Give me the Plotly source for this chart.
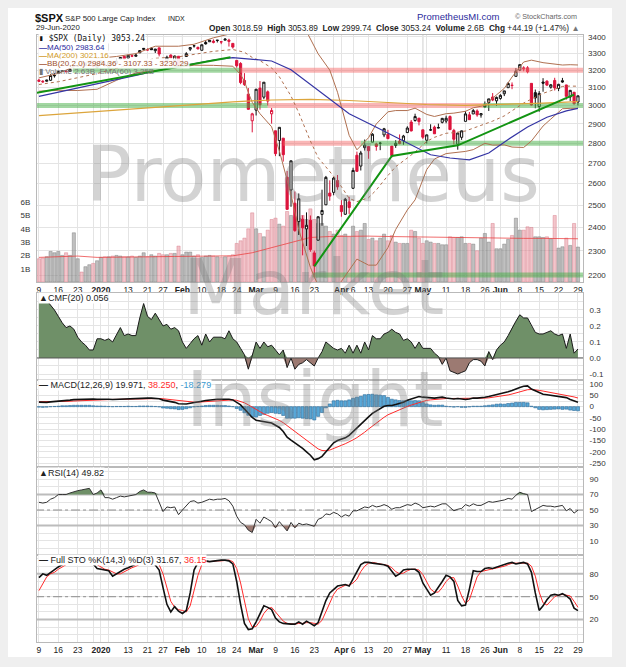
import math
import pandas as pd
import plotly.graph_objects as go

W, H = 626, 667

holidays = ["2019-12-25", "2020-01-01", "2020-01-20", "2020-02-17", "2020-04-10", "2020-05-25"]
dates = [d for d in pd.bdate_range("2019-12-09", "2020-06-29") if d.strftime("%Y-%m-%d") not in holidays]

tick_idx = [0, 5, 10, 16, 23, 28, 32, 37, 42, 47, 51, 56, 61, 66, 71, 78, 81, 85, 90, 95,
            99, 105, 110, 115, 119, 124, 129, 134, 139]
tick_text = ["9", "16", "23", "<b>2020</b>", "13", "21", "27", "<b>Feb</b>", "10", "18", "24",
             "<b>Mar</b>", "9", "16", "23", "<b>Apr</b>", "6", "13", "20", "27", "<b>May</b>",
             "11", "18", "26", "<b>Jun</b>", "8", "15", "22", "29"]
week_idx = [0, 5, 10, 14, 16, 18, 23, 28, 32, 37, 42, 47, 51, 56, 61, 66, 71, 76, 78, 81, 85,
            90, 95, 99, 100, 105, 110, 115, 119, 124, 129, 134, 139]
month_line_idx = [37, 99]

# daily OHLC of $SPX
prev_close0 = 3145.91
open_ = [
    3141.86, 3135.36, 3135.75, 3141.23, 3166.65, 3183.63, 3195.40, 3195.21, 3192.32, 3223.33,
    3226.05, 3225.45, 3227.20, 3247.23, 3240.09, 3215.18,
    3244.67, 3226.36, 3217.55, 3241.86, 3238.59, 3266.03, 3281.81, 3271.13, 3285.35, 3282.27,
    3302.97, 3323.66, 3321.03, 3330.02, 3315.77, 3333.10, 3247.16, 3255.35, 3289.46, 3256.45, 3282.33,
    3235.66, 3280.61, 3324.91, 3344.92, 3335.54, 3318.28, 3365.87, 3370.50, 3365.90, 3378.08,
    3369.04, 3380.39, 3380.45, 3360.50, 3257.61, 3238.94, 3139.90, 3062.54, 2916.90,
    2974.28, 3096.46, 3045.75, 3075.70, 2954.20, 2863.89, 2813.48, 2825.60, 2630.86, 2569.99,
    2508.59, 2425.66, 2436.50, 2393.48, 2431.94, 2290.71, 2344.44, 2457.77, 2501.29, 2555.87, 2558.98, 2614.69,
    2498.08, 2458.54, 2514.92, 2578.28, 2738.65, 2685.00, 2776.99, 2782.46, 2805.10, 2795.64,
    2799.34, 2842.43, 2845.62, 2784.81, 2787.89, 2810.42, 2812.64, 2854.65, 2909.96, 2918.46, 2930.91,
    2869.09, 2815.01, 2868.88, 2883.14, 2878.26, 2908.83, 2915.46, 2939.50, 2865.86, 2794.54,
    2829.95, 2913.86, 2948.59, 2953.63, 2969.95, 2948.05, 3004.08, 3015.65, 3046.61, 3025.17,
    3038.78, 3064.78, 3098.90, 3111.56, 3163.84, 3199.92, 3213.32, 3213.42, 3123.53, 3071.04,
    2993.76, 3131.00, 3136.13, 3101.64, 3140.29, 3094.42, 3138.70, 3114.40, 3046.60, 3073.20, 3018.59]
high = [
    3148.87, 3142.12, 3143.98, 3176.28, 3182.68, 3197.71, 3198.22, 3198.48, 3205.48, 3225.65,
    3227.78, 3226.43, 3240.08, 3247.93, 3240.92, 3231.72,
    3258.14, 3246.15, 3246.84, 3244.91, 3267.07, 3275.58, 3282.99, 3288.13, 3294.25, 3298.66,
    3317.11, 3329.88, 3329.79, 3337.77, 3326.88, 3333.18, 3258.85, 3285.78, 3293.47, 3285.91, 3282.33,
    3268.44, 3306.92, 3337.58, 3347.96, 3341.42, 3352.26, 3375.63, 3381.47, 3385.09, 3380.69,
    3375.01, 3393.52, 3389.15, 3360.76, 3259.81, 3246.99, 3182.51, 3097.07, 2959.72,
    3090.96, 3136.72, 3130.97, 3083.04, 2985.93, 2863.89, 2882.59, 2825.60, 2660.95, 2711.33,
    2562.98, 2553.93, 2453.57, 2466.97, 2453.01, 2300.73, 2449.71, 2571.42, 2637.01, 2615.91, 2631.80, 2641.39,
    2522.75, 2533.22, 2538.18, 2676.85, 2756.89, 2760.75, 2818.57, 2782.46, 2851.85, 2801.88,
    2806.51, 2879.22, 2868.98, 2785.54, 2815.10, 2844.90, 2842.71, 2887.72, 2921.15, 2954.86, 2930.91,
    2869.09, 2844.24, 2898.23, 2891.11, 2901.92, 2932.16, 2944.25, 2945.82, 2874.14, 2852.80,
    2865.01, 2968.09, 2964.21, 2980.29, 2978.50, 2956.76, 3021.72, 3036.25, 3068.67, 3049.17,
    3062.18, 3081.07, 3130.94, 3128.91, 3211.72, 3233.13, 3222.71, 3223.27, 3123.53, 3088.42,
    3079.76, 3153.45, 3141.16, 3120.00, 3155.53, 3120.92, 3154.90, 3115.01, 3086.25, 3073.73, 3053.89]
low = [
    3135.46, 3126.09, 3133.21, 3138.47, 3156.51, 3183.63, 3191.03, 3191.14, 3192.32, 3216.03,
    3222.30, 3220.51, 3227.20, 3234.37, 3216.57, 3212.03,
    3235.53, 3222.34, 3214.64, 3232.43, 3236.67, 3263.67, 3260.86, 3268.43, 3277.19, 3280.69,
    3302.82, 3318.86, 3316.61, 3320.04, 3301.87, 3281.53, 3234.50, 3253.22, 3271.89, 3242.80, 3214.68,
    3235.66, 3280.61, 3313.75, 3334.39, 3322.12, 3317.77, 3352.72, 3369.72, 3360.52, 3366.15,
    3355.61, 3378.83, 3341.02, 3328.45, 3214.65, 3118.77, 3108.99, 2977.39, 2855.84,
    2945.19, 2976.63, 3034.38, 2999.83, 2901.54, 2734.43, 2734.00, 2707.22, 2478.86, 2492.37,
    2380.94, 2367.04, 2280.52, 2319.78, 2295.56, 2191.86, 2344.44, 2407.53, 2500.72, 2520.02, 2545.28, 2571.15,
    2447.49, 2455.79, 2459.96, 2574.57, 2657.67, 2663.30, 2762.36, 2721.17, 2805.10, 2761.54,
    2764.32, 2830.88, 2820.43, 2727.10, 2775.95, 2794.26, 2791.76, 2852.89, 2860.71, 2912.16, 2892.47,
    2821.61, 2797.85, 2863.55, 2847.65, 2876.48, 2902.88, 2903.44, 2869.59, 2793.15, 2766.64,
    2816.78, 2913.86, 2922.35, 2953.63, 2938.57, 2933.59, 2988.17, 2969.75, 3023.40, 2998.61,
    3031.54, 3051.64, 3098.90, 3090.41, 3163.84, 3196.00, 3193.11, 3181.49, 2999.49, 2984.47,
    2965.66, 3076.06, 3108.03, 3093.51, 3083.11, 3079.39, 3127.12, 3032.13, 3024.01, 3004.63, 2999.74]
close = [
    3135.96, 3132.52, 3141.63, 3168.57, 3168.80, 3191.45, 3192.52, 3191.14, 3205.37, 3221.22,
    3224.01, 3223.38, 3239.91, 3240.02, 3221.29, 3230.78,
    3257.85, 3234.85, 3246.28, 3237.18, 3253.05, 3274.70, 3265.35, 3288.13, 3283.15, 3289.29,
    3316.81, 3329.62, 3320.79, 3321.75, 3325.54, 3295.47, 3243.63, 3276.24, 3273.40, 3283.66, 3225.52,
    3248.92, 3297.59, 3334.69, 3345.78, 3327.71, 3352.09, 3357.75, 3379.45, 3373.94, 3380.16,
    3370.29, 3386.15, 3373.23, 3337.75, 3225.89, 3128.21, 3116.39, 2978.76, 2954.22,
    3090.23, 3003.37, 3130.12, 3023.94, 2972.37, 2746.56, 2882.23, 2741.38, 2480.64, 2711.02,
    2386.13, 2529.19, 2398.10, 2409.39, 2304.92, 2237.40, 2447.33, 2475.56, 2630.07, 2541.47, 2626.65, 2584.59,
    2470.50, 2526.90, 2488.65, 2663.68, 2659.41, 2749.98, 2789.82, 2761.63, 2846.06, 2783.36,
    2799.55, 2874.56, 2823.16, 2736.56, 2799.31, 2797.80, 2836.74, 2878.48, 2863.39, 2939.51, 2912.43,
    2830.71, 2842.74, 2868.44, 2848.42, 2881.19, 2929.80, 2930.32, 2870.12, 2820.00, 2852.50,
    2863.70, 2953.91, 2922.94, 2971.61, 2948.51, 2955.45, 2991.77, 3036.13, 3029.73, 3044.31,
    3055.73, 3080.82, 3122.87, 3112.35, 3193.93, 3232.39, 3207.18, 3190.14, 3002.10, 3041.31,
    3066.59, 3124.74, 3113.49, 3115.34, 3097.74, 3117.86, 3131.29, 3050.33, 3083.76, 3009.05, 3053.24]
volume_b = [
    1.75, 1.8, 1.9, 2.3, 2.2, 2.3, 2.0, 2.2, 2.0, 3.7, 1.75, 0.75, 1.15, 1.3, 1.4, 1.6,
    1.85, 1.9, 1.9, 1.95, 2.0, 1.95, 1.9, 1.9, 1.95, 1.85, 1.95, 2.2, 1.9, 2.05, 1.95, 2.15,
    2.05, 2.05, 2.15, 2.15, 2.7,
    2.05, 2.25, 2.25, 1.95, 2.05, 1.85, 1.95, 2.0, 1.95, 1.9, 1.85, 1.9, 1.95, 2.05, 2.9, 3.1,
    3.3, 4.0, 5.2,
    4.0, 3.65, 3.4, 3.9, 4.7, 4.8, 4.35, 4.2, 5.3, 5.0, 4.9, 4.8, 5.0, 4.7, 5.5, 4.7, 4.4, 4.4,
    4.2, 3.8, 3.6, 3.9,
    3.5, 3.6, 3.4, 4.2, 3.8, 3.9, 4.4, 3.2, 3.3, 3.1, 3.3, 3.6, 3.1, 3.5, 3.0, 2.9, 2.9, 2.9,
    3.9, 3.8, 3.3,
    2.9, 3.1, 3.0, 2.9, 2.9, 2.8, 2.8, 3.4, 3.35, 3.35, 3.4, 2.9, 2.9, 2.85, 2.35, 3.3, 3.65,
    3.0, 4.4, 2.5,
    2.5, 2.85, 3.2, 3.5, 4.8, 3.9, 3.9, 4.15, 4.1, 3.4, 3.4, 3.35, 3.4, 3.25, 5.0, 2.55, 2.65,
    3.3, 2.75, 4.4, 2.63]

vol_ema_idx = [0, 5, 10, 15, 20, 25, 30, 35, 40, 45, 50, 55, 60, 65, 70, 75, 80, 85, 90, 95,
               100, 105, 110, 115, 120, 125, 130, 135, 139]
vol_ema = [1.85, 1.9, 1.95, 1.85, 1.85, 1.87, 1.9, 1.92, 1.95, 1.96, 1.97, 2.2, 2.6, 3.0, 3.35,
           3.42, 3.45, 3.45, 3.42, 3.4, 3.37, 3.33, 3.3, 3.28, 3.26, 3.28, 3.28, 3.27, 3.25]

ma50_idx = [0, 5, 10, 15, 20, 25, 30, 36, 40, 45, 50, 55, 60, 65, 70, 75, 80, 86, 91, 96, 101,
            106, 111, 116, 121, 126, 131, 136, 139]
ma50 = [3050, 3073, 3097, 3120, 3145, 3170, 3195, 3222, 3240, 3260, 3274, 3266, 3254, 3202, 3117,
        3034, 2955, 2893, 2841, 2787, 2741, 2725, 2716, 2750, 2819, 2884, 2936, 2970, 2983.64]
ma200_idx = [0, 10, 20, 30, 40, 50, 60, 70, 80, 90, 100, 110, 120, 130, 139]
ma200 = [2945, 2960, 2975, 2990, 3005, 3020, 3030, 3033, 3027, 3015, 3005, 3000, 3005, 3013, 3021.16]

bb_idx = [0, 5, 10, 15, 20, 25, 30, 36, 40, 45, 50, 52, 53, 54, 55, 57, 60, 62, 65, 67, 70, 72,
          75, 77, 80, 82, 85, 87, 90, 92, 95, 97, 100, 102, 105, 107, 110, 112, 115, 117, 120,
          122, 125, 127, 130, 132, 135, 137, 139]
bb_mid = [3117, 3133, 3156, 3180, 3211, 3241, 3270, 3279, 3292, 3312, 3323, 3314, 3306, 3291,
          3275, 3256, 3213, 3161, 3052, 2960, 2811, 2727, 2657, 2613, 2531, 2516, 2534, 2570,
          2639, 2682, 2725, 2755, 2809, 2830, 2851, 2854, 2863, 2877, 2900, 2915, 2943, 2970,
          3013, 3035, 3067, 3082, 3106, 3108, 3107.33]
bb_upper = [3155, 3181, 3229, 3270, 3281, 3298, 3343, 3343, 3355, 3395, 3423, 3454, 3476, 3511,
            3533, 3556, 3541, 3560, 3554, 3530, 3391, 3297, 3200, 3073, 2840, 2766, 2828, 2900,
            2965, 2972, 2972, 2985, 2951, 2940, 2955, 2958, 2968, 2987, 3000, 3040, 3095, 3160,
            3248, 3259, 3244, 3238, 3230, 3232, 3230.29]
bb_lower = [3079, 3084, 3083, 3090, 3141, 3184, 3197, 3216, 3229, 3228, 3223, 3174, 3136, 3071,
            3017, 2955, 2885, 2760, 2549, 2390, 2231, 2157, 2114, 2153, 2222, 2265, 2240, 2240,
            2313, 2391, 2478, 2524, 2668, 2720, 2747, 2750, 2758, 2767, 2799, 2790, 2791, 2780,
            2778, 2811, 2889, 2926, 2982, 2984, 2984.36]

# support / resistance bands and trendlines drawn on the chart
band_level = [3200, 3200, 3000, 3000, 3000, 2800, 2800, 2200]
band_from = [8.7, 52, -1, 59, 114.5, 63, 83, 70.5]
band_to = [52, 141, 59, 114.5, 141, 83, 141, 141]
band_kind = ["support", "resistance", "support", "resistance", "support", "resistance",
             "support", "support"]
trend1_idx = [-2, 49.4]
trend1_val = [3064, 3276]
trend2_idx = [71, 91, 108, 138]
trend2_val = [2235, 2735, 2789, 3060]

cmf = [
    0.35, 0.35, 0.36, 0.33, 0.30, 0.26, 0.22, 0.19, 0.20, 0.18, 0.13, 0.10, 0.08, 0.05, 0.05, 0.12,
    0.12, 0.11, 0.12, 0.10, 0.15, 0.19, 0.14, 0.15, 0.14, 0.14, 0.25, 0.34, 0.26, 0.24, 0.28, 0.24,
    0.20, 0.21, 0.18, 0.19, 0.17,
    0.10, 0.06, 0.09, 0.12, 0.14, 0.08, 0.15, 0.10, 0.13, 0.13, 0.13, 0.12, 0.17, 0.12, 0.10, 0.06,
    0.02, -0.07, 0.02,
    0.10, 0.06, 0.10, 0.07, 0.08, 0.05, 0.02, 0.05, -0.06, 0.00, -0.07, -0.04, -0.03, -0.01, -0.03,
    -0.05, 0.00, 0.04, 0.10, 0.08, 0.06, 0.05,
    0.06, 0.03, 0.08, 0.03, 0.08, 0.03, 0.10, 0.05, 0.14, 0.12, 0.12, 0.15, 0.16, 0.18, 0.16, 0.15,
    0.11, 0.12, 0.10, 0.06, 0.10,
    0.06, 0.06, 0.06, 0.03, 0.01, -0.04, 0.00, -0.08, -0.09, -0.10, -0.09, -0.08, -0.03, -0.01,
    -0.01, -0.02, -0.05, 0.04, -0.01, 0.05,
    0.08, 0.10, 0.14, 0.19, 0.23, 0.27, 0.25, 0.25, 0.20, 0.16, 0.15, 0.15, 0.16, 0.17, 0.15, 0.14,
    0.15, 0.06, 0.15, 0.03, 0.056]

macd = [
    20, 19, 19, 21, 22, 24, 26, 27, 29, 31, 32, 33, 34, 35, 34, 33,
    34, 33, 33, 32, 33, 34, 34, 35, 35, 35, 37, 38, 38, 38, 37, 35, 29, 26, 22, 19, 13,
    11, 12, 15, 19, 21, 24, 27, 30, 31, 33, 33, 34, 33, 30, 20, 8, -10, -30, -48,
    -60, -63, -66, -68, -72, -82, -92, -110, -135, -148, -160, -170, -185, -200, -215, -235, -230,
    -220, -200, -180, -160, -150,
    -145, -138, -127, -110, -95, -80, -60, -45, -30, -20, -8, 2, 5, 5, 10, 14, 20, 28, 33, 40, 45,
    42, 40, 38, 38, 40, 42, 38, 36, 34, 36, 33, 32, 34, 38, 38, 39, 42, 45, 49, 55,
    58, 60, 66, 72, 80, 85, 90, 92, 78, 70, 60, 55, 53, 51, 49, 47, 42, 40, 32, 26, 19.971]
macd_signal = [
    22, 22, 21, 21, 21, 22, 22, 23, 24, 25, 26, 27, 28, 29, 30, 30,
    31, 31, 32, 32, 32, 33, 33, 33, 34, 34, 34, 35, 35, 36, 36, 36, 35, 33, 31, 29, 26,
    23, 21, 20, 20, 20, 21, 22, 24, 25, 27, 28, 29, 30, 30, 28, 24, 17, 8, -3,
    -14, -24, -32, -39, -46, -53, -61, -71, -84, -97, -109, -121, -134, -147, -161, -176, -187,
    -194, -195, -192, -186, -178,
    -171, -164, -157, -147, -137, -126, -113, -99, -85, -72, -59, -47, -36, -28, -20, -13, -6, 1,
    7, 13, 19,
    24, 28, 30, 32, 33, 35, 36, 36, 36, 36, 36, 35, 35, 36, 36, 37, 38, 39, 41, 44,
    46, 49, 52, 56, 61, 66, 71, 75, 76, 75, 72, 69, 66, 63, 60, 57, 54, 51, 47, 43, 38.25]

rsi = [
    60, 59, 60, 64, 66, 70, 70, 70, 72, 74, 75, 76, 77, 78, 70, 72,
    76, 66, 66, 64, 66, 68, 67, 68, 69, 70, 74, 76, 73, 73, 72, 60, 48, 54, 53, 54, 44,
    50, 56, 61, 62, 59, 60, 62, 64, 63, 64, 64, 65, 62, 55, 42, 34, 31, 24, 21,
    38, 33, 41, 38, 35, 27, 35, 29, 23, 34, 27, 33, 31, 32, 30, 29, 38, 40, 45, 44, 47, 45,
    41, 44, 42, 49, 49, 52, 54, 53, 56, 54, 55, 57, 55, 51, 53, 53, 55, 57, 56, 59, 57,
    53, 54, 55, 54, 56, 58, 58, 53, 49, 51, 52, 57, 55, 58, 56, 56, 58, 61, 60, 61,
    62, 63, 65, 64, 69, 73, 71, 70, 48, 51, 53, 56, 55, 55, 54, 55, 56, 49, 52, 46, 49.82]

sto_k = [
    75, 80, 78, 82, 86, 89, 92, 95, 98, 100, 100, 99, 100, 97, 93, 87,
    86, 85, 84, 77, 80, 84, 86, 88, 90, 92, 95, 98, 100, 98, 92, 85, 62, 40, 30, 37, 31,
    28, 32, 55, 85, 95, 96, 97, 96, 97, 97, 98, 98, 97, 93, 70, 40, 15, 7, 8,
    17, 28, 38, 36, 33, 22, 17, 15, 14, 14, 14, 17, 14, 18, 15, 12, 16, 30, 45, 55, 60, 64,
    65, 66, 64, 74, 82, 92, 95, 95, 94, 93, 92, 92, 90, 83, 77, 80, 85, 86, 86, 86, 82,
    68, 60, 52, 55, 62, 70, 78, 76, 70, 45, 38, 39, 60, 84, 83, 83, 87, 88, 87, 89,
    90, 92, 94, 95, 93, 94, 95, 93, 82, 55, 32, 38, 46, 52, 53, 52, 54, 51, 47, 35, 31.67]
sto_d = [
    58, 68, 76, 80, 82, 86, 89, 92, 95, 98, 99, 100, 100, 99, 97, 92,
    89, 86, 85, 82, 80, 80, 83, 86, 88, 90, 92, 95, 98, 99, 97, 92, 80, 62, 44, 36, 33,
    32, 30, 38, 57, 78, 92, 96, 96, 97, 97, 97, 98, 98, 96, 87, 68, 42, 21, 10,
    11, 18, 28, 34, 36, 30, 24, 18, 15, 14, 14, 15, 15, 16, 16, 15, 14, 19, 30, 43, 53, 60,
    63, 65, 65, 68, 73, 83, 90, 94, 95, 94, 93, 92, 91, 88, 83, 80, 81, 84, 86, 86, 85,
    79, 70, 60, 56, 56, 62, 70, 75, 75, 64, 51, 41, 46, 61, 76, 83, 84, 86, 87, 88,
    89, 90, 92, 94, 94, 94, 94, 94, 90, 77, 56, 42, 39, 45, 50, 52, 53, 52, 51, 44, 36.15]


def px(x):
    return x / W


def py(y):
    return 1 - y / H


RED = "#dc143c"
GREEN_FILL = "#6f9068"
BROWN_FILL = "#9c7a72"
GRID = "#e4e4e4"
BORDER = "#b9b9b9"
FONT = "Liberation Sans"
tickfont = dict(size=8, color="#333333", family=FONT)

n = len(close)
xi = list(range(n))
prev = [prev_close0] + close[:-1]
up_day = [c >= p for c, p in zip(close, prev)]

fig = go.Figure()

# volume on the base axis so that the price layer sits on top of it
fig.add_trace(go.Bar(
    x=xi, y=volume_b, width=0.82, xaxis="x", yaxis="y",
    marker=dict(color=["rgba(150,150,150,0.6)" if u else "rgba(232,150,160,0.55)" for u in up_day],
                line=dict(color=["rgba(115,115,115,0.7)" if u else "rgba(215,115,130,0.7)" for u in up_day],
                          width=0.6)),
))
fig.add_trace(go.Scatter(x=vol_ema_idx, y=vol_ema, mode="lines", xaxis="x", yaxis="y",
                         line=dict(color="rgba(235,60,60,0.75)", width=1)))

for lvl, a, b, kind in zip(band_level, band_from, band_to, band_kind):
    col = "rgba(70,175,70,0.5)" if kind == "support" else "rgba(245,110,110,0.5)"
    fig.add_trace(go.Scatter(x=[a, b], y=[lvl, lvl], mode="lines", xaxis="x", yaxis="y2",
                             line=dict(color=col, width=5)))

bb_col = "#b07050"
fig.add_trace(go.Scatter(x=bb_idx, y=bb_upper, mode="lines", xaxis="x", yaxis="y2",
                         line=dict(color=bb_col, width=1)))
fig.add_trace(go.Scatter(x=bb_idx, y=bb_lower, mode="lines", xaxis="x", yaxis="y2",
                         line=dict(color=bb_col, width=1)))
fig.add_trace(go.Scatter(x=bb_idx, y=bb_mid, mode="lines", xaxis="x", yaxis="y2",
                         line=dict(color=bb_col, width=1, dash="dot")))
fig.add_trace(go.Scatter(x=ma200_idx, y=ma200, mode="lines", xaxis="x", yaxis="y2",
                         line=dict(color="#dca53c", width=1.2)))
fig.add_trace(go.Scatter(x=ma50_idx, y=ma50, mode="lines", xaxis="x", yaxis="y2",
                         line=dict(color="#3434a4", width=1.2)))

for col, want in (("#111111", True), (RED, False)):
    ids = [i for i in xi if up_day[i] == want]
    fig.add_trace(go.Candlestick(
        x=ids, open=[open_[i] for i in ids], high=[high[i] for i in ids],
        low=[low[i] for i in ids], close=[close[i] for i in ids],
        xaxis="x", yaxis="y2", whiskerwidth=0,
        increasing=dict(line=dict(color=col, width=1), fillcolor="white"),
        decreasing=dict(line=dict(color=col, width=1), fillcolor=col),
    ))

for tx, ty in ((trend1_idx, trend1_val), (trend2_idx, trend2_val)):
    fig.add_trace(go.Scatter(x=tx, y=ty, mode="lines", xaxis="x", yaxis="y2",
                             line=dict(color="#129412", width=2)))

# CMF
fig.add_trace(go.Scatter(x=xi, y=[max(v, 0) for v in cmf], mode="lines", fill="tozeroy",
                         fillcolor=GREEN_FILL, line=dict(width=0), xaxis="x2", yaxis="y3"))
fig.add_trace(go.Scatter(x=xi, y=[min(v, 0) for v in cmf], mode="lines", fill="tozeroy",
                         fillcolor=BROWN_FILL, line=dict(width=0), xaxis="x2", yaxis="y3"))
fig.add_trace(go.Scatter(x=xi, y=cmf, mode="lines", line=dict(color="#1a1a1a", width=1),
                         xaxis="x2", yaxis="y3"))

# MACD
macd_hist = [m - s for m, s in zip(macd, macd_signal)]
fig.add_trace(go.Bar(x=xi, y=macd_hist, width=0.8, xaxis="x3", yaxis="y4",
                     marker=dict(color="#58a8d8", line=dict(color="#2c6a98", width=0.6))))
fig.add_trace(go.Scatter(x=xi, y=macd_signal, mode="lines", line=dict(color="#ff2b2b", width=1),
                         xaxis="x3", yaxis="y4"))
fig.add_trace(go.Scatter(x=xi, y=macd, mode="lines", line=dict(color="#111111", width=1.6),
                         xaxis="x3", yaxis="y4"))

# RSI with its 30 / 50 / 70 guides
for lvl, col, w, dash in ((70, "#bcbcbc", 2, "solid"), (30, "#bcbcbc", 2, "solid"),
                          (50, "#8c8c8c", 1, "dashdot")):
    fig.add_trace(go.Scatter(x=[-1, 141], y=[lvl, lvl], mode="lines", xaxis="x4", yaxis="y5",
                             line=dict(color=col, width=w, dash=dash)))
fig.add_trace(go.Scatter(x=xi, y=[70] * n, mode="lines", line=dict(width=0), xaxis="x4", yaxis="y5"))
fig.add_trace(go.Scatter(x=xi, y=[max(v, 70) for v in rsi], mode="lines", fill="tonexty",
                         fillcolor=GREEN_FILL, line=dict(width=0), xaxis="x4", yaxis="y5"))
fig.add_trace(go.Scatter(x=xi, y=[30] * n, mode="lines", line=dict(width=0), xaxis="x4", yaxis="y5"))
fig.add_trace(go.Scatter(x=xi, y=[min(v, 30) for v in rsi], mode="lines", fill="tonexty",
                         fillcolor=BROWN_FILL, line=dict(width=0), xaxis="x4", yaxis="y5"))
fig.add_trace(go.Scatter(x=xi, y=rsi, mode="lines", line=dict(color="#333333", width=1),
                         xaxis="x4", yaxis="y5"))

# Full stochastics with its 20 / 50 / 80 guides
for lvl, col, w, dash in ((80, "#bcbcbc", 2, "solid"), (20, "#bcbcbc", 2, "solid"),
                          (50, "#8c8c8c", 1, "dashdot")):
    fig.add_trace(go.Scatter(x=[-1, 141], y=[lvl, lvl], mode="lines", xaxis="x5", yaxis="y6",
                             line=dict(color=col, width=w, dash=dash)))
fig.add_trace(go.Scatter(x=xi, y=sto_d, mode="lines", line=dict(color="#ff2b2b", width=1),
                         xaxis="x5", yaxis="y6"))
fig.add_trace(go.Scatter(x=xi, y=sto_k, mode="lines", line=dict(color="#111111", width=1.6),
                         xaxis="x5", yaxis="y6"))

fig.update_traces(hoverinfo="skip", showlegend=False)


def xaxis(anchor, labels):
    return dict(domain=[px(37), px(583)], range=[-0.5, 140.3], anchor=anchor,
                tickmode="array", tickvals=tick_idx, ticktext=tick_text, showticklabels=labels,
                ticks="", tickangle=0, tickfont=dict(size=8.5, color="#222222", family=FONT),
                showgrid=True, gridcolor=GRID, gridwidth=1, zeroline=False,
                minor=dict(tickmode="array", tickvals=week_idx, showgrid=True, gridcolor=GRID, ticks=""),
                showline=True, mirror=True, linecolor=BORDER, linewidth=1,
                automargin=False, fixedrange=True, rangeslider=dict(visible=False))


def yaxis(top, bottom, rng, vals, text, minor_vals):
    return dict(domain=[py(bottom), py(top)], range=rng, side="right",
                tickmode="array", tickvals=vals, ticktext=text, ticks="", tickfont=tickfont,
                ticklabelstandoff=4, showgrid=True, gridcolor=GRID, zeroline=False,
                minor=dict(tickmode="array", tickvals=minor_vals, showgrid=True, gridcolor=GRID, ticks=""),
                showline=True, mirror=True, linecolor=BORDER, linewidth=1,
                automargin=False, fixedrange=True)


price_ticks = list(range(2200, 3401, 100))
layout_axes = dict(
    xaxis=xaxis("y", True),
    yaxis=dict(domain=[py(282), py(35)], range=[0, 18.57], side="left",
               tickmode="array", tickvals=[1, 2, 3, 4, 5, 6], ticktext=["1B", "2B", "3B", "4B", "5B", "6B"],
               ticks="", tickfont=tickfont, ticklabelstandoff=4, showgrid=False, zeroline=False,
               showline=True, mirror=True, linecolor=BORDER, automargin=False, fixedrange=True),
    yaxis2=dict(overlaying="y", anchor="x", side="right", type="log",
                range=[math.log10(2172), math.log10(3412.4)],
                tickmode="array", tickvals=price_ticks, ticktext=[str(v) for v in price_ticks],
                ticks="", tickfont=tickfont, ticklabelstandoff=4, showgrid=True, gridcolor=GRID,
                zeroline=False, showline=False, automargin=False, fixedrange=True),
    xaxis2=xaxis("y3", False),
    yaxis3=yaxis(293, 380, [-0.1375, 0.406], [-0.1, 0, 0.1, 0.2, 0.3],
                 ["-0.1", "0.0", "0.1", "0.2", "0.3"], [-0.05, 0.05, 0.15, 0.25, 0.35]),
    xaxis3=xaxis("y4", False),
    yaxis4=yaxis(380, 467, [-267, 118], [100, 50, 0, -50, -100, -150, -200, -250],
                 ["100", "50", "0", "-50", "-100", "-150", "-200", "-250"],
                 [75, 25, -25, -75, -125, -175, -225]),
    xaxis4=xaxis("y5", False),
    yaxis5=yaxis(467, 555, [-8.1, 105.6], [10, 30, 50, 70, 90], ["10", "30", "50", "70", "90"],
                 [0, 20, 40, 60, 80, 100]),
    xaxis5=xaxis("y6", True),
    yaxis6=yaxis(555, 642, [-9.4, 104.7], [20, 50, 80], ["20", "50", "80"],
                 [0, 10, 30, 40, 60, 70, 90, 100]),
)
for k in ("xaxis2", "xaxis3", "xaxis4", "xaxis5"):
    layout_axes[k]["matches"] = "x"

shapes = [dict(type="rect", xref="paper", yref="paper", x0=px(8), x1=px(612), y0=py(657), y1=py(8),
               fillcolor="white", line=dict(width=0), layer="below")]
panel_px = ((35, 282), (293, 380), (380, 467), (467, 555), (555, 642))
for top, bottom in panel_px:
    for m in month_line_idx:
        shapes.append(dict(type="line", xref="x", yref="paper", x0=m, x1=m, y0=py(bottom), y1=py(top),
                           line=dict(color="#c2c2c2", width=1), layer="below"))
shapes.append(dict(type="line", xref="paper", yref="y3", x0=px(37), x1=px(583), y0=0, y1=0,
                   line=dict(color="#555555", width=1), layer="above"))

fig.update_layout(
    width=W, height=H, margin=dict(l=0, r=0, t=0, b=0),
    paper_bgcolor="#efefef", plot_bgcolor="white",
    font=dict(family=FONT, size=8, color="#222222"),
    showlegend=False, hovermode=False, shapes=shapes, boxgap=0.2, **layout_axes,
)


def label(x, y, text, size=8, color="#222222", family=FONT, anchor="left", bg=None):
    fig.add_annotation(x=px(x), y=py(y), xref="paper", yref="paper", text=text, showarrow=False,
                       xanchor=anchor, yanchor="middle", bgcolor=bg, borderpad=0,
                       font=dict(size=size, color=color, family=family))


# header
label(34, 17.5, "<b>$SPX</b>", size=11, color="#111111")
label(64, 18, "S&P 500 Large Cap Index", size=7.8)
label(167, 18, "INDX", size=7)
label(35, 27.5, "29-Jun-2020", size=7.8)
label(581, 28, "<b>Open</b> 3018.59  <b>High</b> 3053.89  <b>Low</b> 2999.74  <b>Close</b> 3053.24  "
      "<b>Volume</b> 2.6B  <b>Chg</b> +44.19 (+1.47%) <span style='color:#777'>▲</span>",
      size=8.3, anchor="right")
label(416, 17, "PrometheusMI.com", size=9.5, color="#2b2b9c")
label(514, 17, "© StockCharts.com", size=7.2, color="#666666")

# price panel legend
white = "rgba(255,255,255,0.9)"
label(38, 38.5, "▮ $SPX (Daily) 3053.24", size=8, color="#111111", family="DejaVu Sans Mono", bg=white)
label(38, 47, "<b>—</b>MA(50) 2983.64", size=8, color="#2a2aa0", bg=white)
label(38, 55.5, "<b>—</b>MA(200) 3021.16", size=8, color="#d09a28", bg=white)
label(38, 63.5, "<b>—</b>BB(20,2.0) 2984.36 - 3107.33 - 3230.29", size=8, color="#a0522d", bg=white)
label(38, 71.5, "▮ Volume 2.63B, EMA(60) 3.25B", size=8, color="#777777")

# indicator legends
label(38, 298, "▲CMF(20) 0.056", size=9, bg="white")
label(38, 385, "<b>—</b> MACD(12,26,9) 19.971, <span style='color:#ff2b2b'>38.250</span>, "
      "<span style='color:#3b9ad0'>-18.279</span>", size=9, bg="white")
label(38, 473, "▲RSI(14) 49.82", size=9, bg="white")
label(38, 559.5, "<b>—</b> Full STO %K(14,3) %D(3) 31.67, <span style='color:#ff2b2b'>36.15</span>",
      size=9, bg="white")

# watermark
wm = "rgba(120,120,120,0.33)"
label(313, 174, "Prometheus", size=76, color=wm, family="DejaVu Sans", anchor="center")
label(313, 287, "Market", size=76, color=wm, family="DejaVu Sans", anchor="center")
label(315, 399, "Insight", size=76, color=wm, family="DejaVu Sans", anchor="center")

fig.write_html("out.html", config={"displayModeBar": False},
               post_script="document.body.style.margin='0';"
                           "document.body.style.overflow='hidden';"
                           "document.body.style.background='#efefef';")
